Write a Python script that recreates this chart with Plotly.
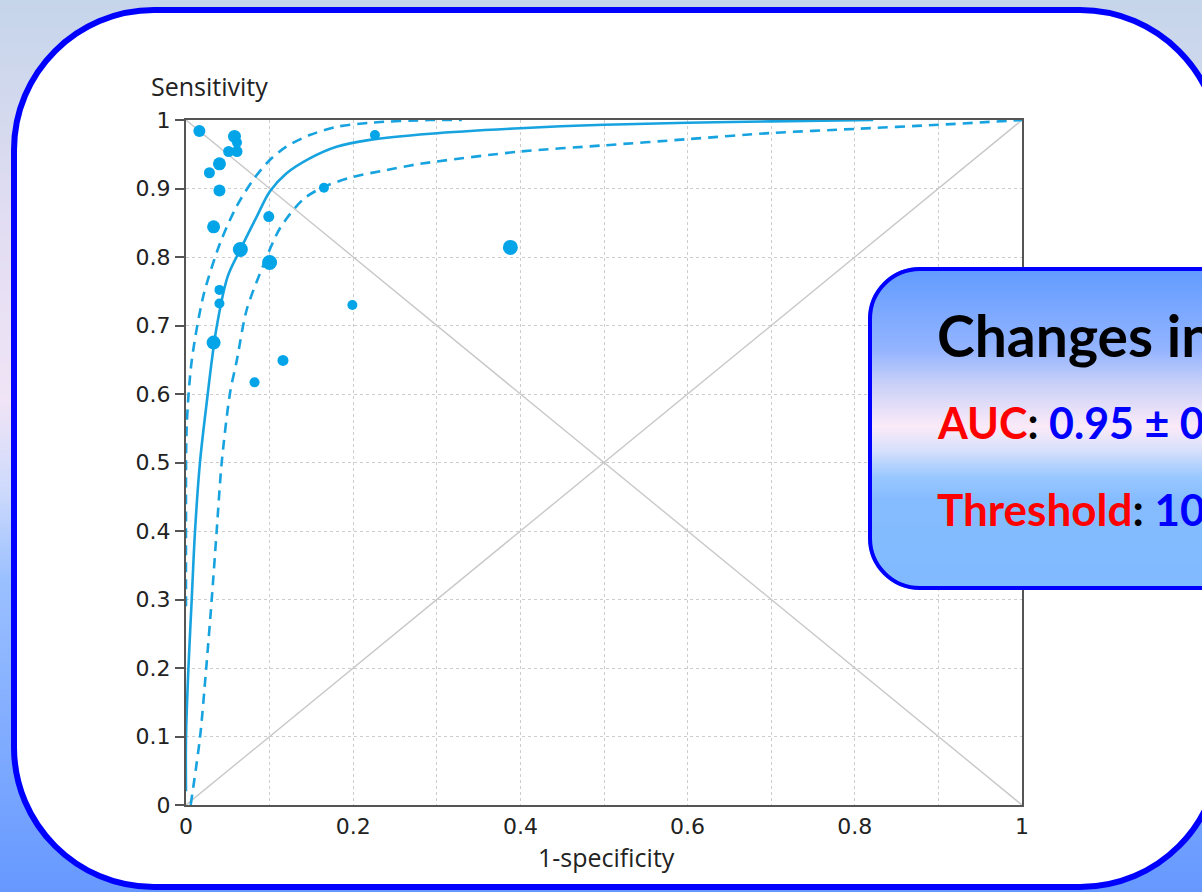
import base64
import struct
import zlib

import plotly.graph_objects as go

# ---------------------------------------------------------------------------
# Data: summary ROC curve, its confidence band and the individual studies
# ---------------------------------------------------------------------------
sroc_fpr = [0.0, 0.0, 0.0028, 0.0068, 0.0108, 0.0167, 0.026, 0.031, 0.0367,
            0.050, 0.0646, 0.0846, 0.1005, 0.120, 0.148, 0.180, 0.220, 0.292,
            0.40, 0.50, 0.60, 0.70, 0.822]
sroc_sens = [0.02, 0.098, 0.197, 0.299, 0.400, 0.500, 0.600, 0.650, 0.698,
             0.772, 0.810, 0.859, 0.896, 0.922, 0.944, 0.961, 0.971, 0.980,
             0.988, 0.993, 0.996, 0.998, 1.0]

upper_fpr = [0.0, 0.0, 0.0008, 0.0068, 0.0207, 0.0407, 0.0606, 0.0805, 0.1005,
             0.120, 0.148, 0.180, 0.220, 0.292, 0.33]
upper_sens = [0.29, 0.406, 0.552, 0.648, 0.743, 0.820, 0.874, 0.913, 0.942,
              0.961, 0.978, 0.990, 0.996, 1.0, 1.0]

lower_fpr = [0.0056, 0.0167, 0.024, 0.0307, 0.0367, 0.0427, 0.0526, 0.0606,
             0.0726, 0.0925, 0.1124, 0.140, 0.164, 0.200, 0.240, 0.28, 0.40,
             0.50, 0.60, 0.70, 0.80, 0.90, 1.0]
lower_sens = [0.0, 0.098, 0.197, 0.299, 0.400, 0.500, 0.601, 0.648, 0.723,
              0.788, 0.842, 0.884, 0.902, 0.917, 0.927, 0.936, 0.954, 0.963,
              0.972, 0.981, 0.987, 0.993, 1.0]

study_fpr = [0.016, 0.058, 0.061, 0.051, 0.061, 0.040, 0.028, 0.040, 0.033,
             0.099, 0.065, 0.100, 0.040, 0.040, 0.033, 0.116, 0.199, 0.165,
             0.226, 0.082, 0.388]
study_sens = [0.984, 0.976, 0.967, 0.954, 0.954, 0.936, 0.923, 0.897, 0.844,
              0.859, 0.811, 0.792, 0.752, 0.732, 0.675, 0.649, 0.730, 0.901,
              0.978, 0.617, 0.814]
study_weight = [12, 13, 10, 11, 11, 13, 11, 12, 13, 11, 15, 15, 10, 10, 14,
                11, 10, 10, 10, 10, 15]

x_ticks = [0.0, 0.1, 0.2, 0.3, 0.4, 0.5, 0.6, 0.7, 0.8, 0.9, 1.0]
x_tick_text = ["0", "", "0.2", "", "0.4", "", "0.6", "", "0.8", "", "1"]
y_ticks = [0.0, 0.1, 0.2, 0.3, 0.4, 0.5, 0.6, 0.7, 0.8, 0.9, 1.0]
y_tick_text = ["0", "0.1", "0.2", "0.3", "0.4", "0.5", "0.6", "0.7", "0.8",
               "0.9", "1"]

chance_x = [0, 1]
chance_y = [0, 1]
anti_x = [0, 1]
anti_y = [1, 0]

# ---------------------------------------------------------------------------
# Page geometry (pixels) and helpers
# ---------------------------------------------------------------------------
W, H = 1202, 892
PL, PR, PT, PB = 186, 1022, 120, 805          # plot area edges


def xp(px):
    return (px - PL) / (PR - PL)


def yp(py):
    return (PB - py) / (PB - PT)


def rounded_path(x0, y0, x1, y1, r):
    k = 0.5523 * r
    pts = [
        ("M", [(x0 + r, y0)]),
        ("L", [(x1 - r, y0)]),
        ("C", [(x1 - r + k, y0), (x1, y0 + r - k), (x1, y0 + r)]),
        ("L", [(x1, y1 - r)]),
        ("C", [(x1, y1 - r + k), (x1 - r + k, y1), (x1 - r, y1)]),
        ("L", [(x0 + r, y1)]),
        ("C", [(x0 + r - k, y1), (x0, y1 - r + k), (x0, y1 - r)]),
        ("L", [(x0, y0 + r)]),
        ("C", [(x0, y0 + r - k), (x0 + r - k, y0), (x0 + r, y0)]),
    ]
    out = []
    for cmd, coords in pts:
        out.append(cmd + " ".join(f"{xp(a):.5f},{yp(b):.5f}" for a, b in coords))
    return " ".join(out) + " Z"


def lerp_stops(stops, t):
    t = min(max(t, 0.0), 1.0)
    for (t0, c0), (t1, c1) in zip(stops[:-1], stops[1:]):
        if t <= t1:
            f = 0 if t1 == t0 else (t - t0) / (t1 - t0)
            return tuple(int(round(a + (b - a) * f)) for a, b in zip(c0, c1))
    return stops[-1][1]


def png_uri(width, height, rows):
    raw = bytearray()
    for row in rows:
        raw.append(0)
        raw.extend(row)

    def chunk(tag, data):
        body = tag + data
        return (struct.pack(">I", len(data)) + body
                + struct.pack(">I", zlib.crc32(body) & 0xFFFFFFFF))

    png = (b"\x89PNG\r\n\x1a\n"
           + chunk(b"IHDR", struct.pack(">IIBBBBB", width, height, 8, 6, 0, 0, 0))
           + chunk(b"IDAT", zlib.compress(bytes(raw), 9))
           + chunk(b"IEND", b""))
    return "data:image/png;base64," + base64.b64encode(png).decode()


# page background: vertical blue / lavender gradient
page_stops = [(0.0, (197, 213, 234)), (0.25, (226, 221, 242)),
              (0.45, (240, 228, 246)), (0.55, (205, 218, 252)),
              (0.65, (155, 192, 255)), (1.0, (102, 152, 255))]
bg_rows = []
for j in range(H):
    c = lerp_stops(page_stops, j / (H - 1))
    bg_rows.append(bytes(c + (255,)) * 2)
bg_uri = png_uri(2, H, bg_rows)

# callout box: gradient fill with rounded corners (alpha mask)
CB_X0, CB_Y0, CB_X1, CB_Y1, CB_R = 868, 267, 1250, 590, 52
box_stops = [(0.0, (96, 155, 255)), (0.257, (148, 180, 255)),
             (0.36, (200, 208, 248)), (0.495, (251, 234, 248)),
             (0.567, (216, 224, 252)), (0.65, (153, 200, 255)),
             (0.72, (133, 188, 255)), (1.0, (128, 186, 255))]
bw, bh = CB_X1 - CB_X0, CB_Y1 - CB_Y0
box_rows = []
for j in range(bh):
    c = lerp_stops(box_stops, j / (bh - 1))
    row = bytearray()
    cy = j + 0.5
    for i in range(bw):
        cx = i + 0.5
        dx = max(CB_R - cx, cx - (bw - CB_R), 0)
        dy = max(CB_R - cy, cy - (bh - CB_R), 0)
        if dx > 0 and dy > 0:
            d = (dx * dx + dy * dy) ** 0.5
            a = min(max(CB_R - d + 0.5, 0.0), 1.0)
        else:
            a = 1.0
        row.extend(c)
        row.append(int(a * 255))
    box_rows.append(bytes(row))
box_uri = png_uri(bw, bh, box_rows)

# ---------------------------------------------------------------------------
# Figure
# ---------------------------------------------------------------------------
BLUE = "#17a3df"
GREY = "#c8c8c8"

fig = go.Figure()

fig.add_trace(go.Scatter(x=chance_x, y=chance_y, mode="lines",
                         line=dict(color=GREY, width=1.4), hoverinfo="skip"))
fig.add_trace(go.Scatter(x=anti_x, y=anti_y, mode="lines",
                         line=dict(color=GREY, width=1.4), hoverinfo="skip"))
fig.add_trace(go.Scatter(x=upper_fpr, y=upper_sens, mode="lines",
                         line=dict(color=BLUE, width=2.6, dash="10px,7px",
                                   shape="spline", smoothing=0.8)))
fig.add_trace(go.Scatter(x=lower_fpr, y=lower_sens, mode="lines",
                         line=dict(color=BLUE, width=2.6, dash="10px,7px",
                                   shape="spline", smoothing=0.8)))
fig.add_trace(go.Scatter(x=sroc_fpr, y=sroc_sens, mode="lines",
                         line=dict(color=BLUE, width=2.6, shape="spline",
                                   smoothing=1.0)))
fig.add_trace(go.Scatter(x=study_fpr, y=study_sens, mode="markers",
                         marker=dict(color="#04a5e8", size=study_weight,
                                     opacity=1, line=dict(width=0)),
                         cliponaxis=False))

axis_font = dict(family="DejaVu Sans, Verdana, sans-serif", size=22,
                 color="#222222")

fig.update_xaxes(range=[0, 1], tickvals=x_ticks, ticktext=x_tick_text,
                 showgrid=True, gridcolor="#cdcdcd", gridwidth=1,
                 griddash="dot", zeroline=False, showline=True,
                 linecolor="#555555", linewidth=2, mirror=True,
                 ticks="outside", ticklen=1, tickcolor="rgba(0,0,0,0)",
                 tickfont=axis_font, fixedrange=True)
fig.update_yaxes(range=[0, 1], tickvals=y_ticks, ticktext=y_tick_text,
                 showgrid=True, gridcolor="#cdcdcd", gridwidth=1,
                 griddash="dot", zeroline=False, showline=True,
                 linecolor="#555555", linewidth=2, mirror=True,
                 ticks="outside", ticklen=9, tickwidth=1.5,
                 tickcolor="#555555", tickfont=axis_font, fixedrange=True)

fig.update_layout(
    width=W, height=H,
    margin=dict(l=PL, r=W - PR, t=PT, b=H - PB, pad=0),
    paper_bgcolor="#ffffff",
    plot_bgcolor="rgba(0,0,0,0)",
    showlegend=False,
    images=[
        dict(source=bg_uri, xref="paper", yref="paper",
             x=xp(0), y=yp(0), sizex=W / (PR - PL), sizey=H / (PB - PT),
             xanchor="left", yanchor="top", sizing="stretch", layer="below"),
        dict(source=box_uri, xref="paper", yref="paper",
             x=xp(CB_X0), y=yp(CB_Y0), sizex=bw / (PR - PL),
             sizey=bh / (PB - PT), xanchor="left", yanchor="top",
             sizing="stretch", layer="above"),
    ],
    shapes=[
        dict(type="path", xref="paper", yref="paper", layer="below",
             path=rounded_path(14, 10, 1220, 887, 140),
             fillcolor="#ffffff", line=dict(color="#0000ff", width=6)),
        dict(type="path", xref="paper", yref="paper", layer="above",
             path=rounded_path(CB_X0 + 2, CB_Y0 + 2, CB_X1, CB_Y1 - 2, CB_R - 2),
             fillcolor="rgba(0,0,0,0)", line=dict(color="#0000ff", width=4)),
    ],
)

label_font = dict(family="Open Sans, Lato, sans-serif", size=25, color="#222222")
callout_font = "Lato, Open Sans, sans-serif"

fig.add_annotation(text="Sensitivity", x=xp(209), y=yp(86), xref="paper",
                   yref="paper", showarrow=False, font=label_font,
                   xanchor="center", yanchor="middle")
fig.add_annotation(text="1-specificity", x=xp(606), y=yp(857), xref="paper",
                   yref="paper", showarrow=False, font=label_font,
                   xanchor="center", yanchor="middle")

fig.add_annotation(text="<b>Changes in</b>", x=xp(935), y=yp(335),
                   xref="paper", yref="paper", showarrow=False,
                   font=dict(family=callout_font, size=57, color="#000000"),
                   xanchor="left", yanchor="middle")
fig.add_annotation(
    text="<b><span style='color:#ff0000'>AUC</span>: "
         "<span style='color:#0000ff'>0.95 ± 0</span></b>",
    x=xp(935), y=yp(422), xref="paper", yref="paper", showarrow=False,
    font=dict(family=callout_font, size=43, color="#000000"),
    xanchor="left", yanchor="middle")
fig.add_annotation(
    text="<b><span style='color:#ff0000'>Threshold</span>: "
         "<span style='color:#0000ff'>10</span></b>",
    x=xp(935), y=yp(509), xref="paper", yref="paper", showarrow=False,
    font=dict(family=callout_font, size=44, color="#000000"),
    xanchor="left", yanchor="middle")

fig.write_html("out.html")
